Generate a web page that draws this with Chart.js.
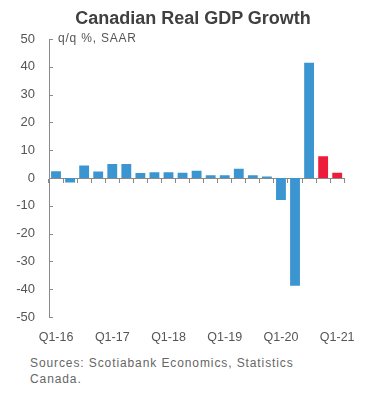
<!DOCTYPE html>
<html>
<head>
<meta charset="utf-8">
<script src="https://cdn.jsdelivr.net/npm/chart.js@4"></script>
<style>
  body { margin: 0; background: #fff; font-family: "Liberation Sans", Arial, sans-serif; }
  .wrap { position: relative; width: 368px; height: 396px; }
  .chartBox { position: absolute; left: 0; top: 0; width: 368px; height: 346px; }
  .title { position: absolute; left: 0; top: 8px; width: 386px; text-align: center;
           font-weight: bold; font-size: 18px; color: #404040; }
  .note { position: absolute; left: 58px; top: 31px; font-size: 12px; color: #555;
          letter-spacing: 0.8px; }
  .source { position: absolute; left: 30px; top: 355px; font-size: 12px; line-height: 16px;
            color: #666; letter-spacing: 0.9px; }
</style>
</head>
<body>
<div class="wrap">
  <div class="chartBox"><canvas id="gdp"></canvas></div>
  <div class="title">Canadian Real GDP Growth</div>
  <div class="note">q/q %, SAAR</div>
  <div class="source">Sources: Scotiabank Economics, Statistics<br>Canada.</div>
</div>
<script>
const quarters = [
  'Q1-16', 'Q2-16', 'Q3-16', 'Q4-16',
  'Q1-17', 'Q2-17', 'Q3-17', 'Q4-17',
  'Q1-18', 'Q2-18', 'Q3-18', 'Q4-18',
  'Q1-19', 'Q2-19', 'Q3-19', 'Q4-19',
  'Q1-20', 'Q2-20', 'Q3-20', 'Q4-20',
  'Q1-21',
];
// q/q % SAAR, last two are forecasts (red)
const growth = [
  2.4, -1.6, 4.5, 2.3,
  5.0, 5.0, 1.8, 2.1,
  2.1, 1.9, 2.6, 1.0,
  1.0, 3.3, 1.0, 0.5,
  -7.9, -38.8, 41.5, 7.8,
  1.9,
];
const forecast = [
  false, false, false, false,
  false, false, false, false,
  false, false, false, false,
  false, false, false, false,
  false, false, false, true,
  true,
];
const yTicks = [50, 40, 30, 20, 10, 0, -10, -20, -30, -40, -50];

const AXIS = '#8a8a8a';

// small tick marks pointing into the plot on the y axis
const innerTicks = {
  id: 'innerTicks',
  afterDatasetsDraw(chart) {
    const {ctx, chartArea, scales} = chart;
    ctx.save();
    ctx.strokeStyle = AXIS;
    ctx.lineWidth = 1;
    yTicks.forEach(v => {
      const y = Math.round(scales.y.getPixelForValue(v)) + 0.5;
      ctx.beginPath();
      ctx.moveTo(chartArea.left, y);
      ctx.lineTo(chartArea.left + 4, y);
      ctx.stroke();
    });
    ctx.restore();
  },
};

const ctx = document.getElementById('gdp').getContext('2d');
new Chart(ctx, {
  type: 'bar',
  data: {
    labels: quarters,
    datasets: [{
      data: growth,
      backgroundColor: forecast.map(f => (f ? '#ec1c3a' : '#3a95d1')),
      barPercentage: 0.7,
      categoryPercentage: 1,
    }],
  },
  options: {
    responsive: true,
    maintainAspectRatio: false,
    animation: false,
    layout: {padding: {top: 39, left: 0, right: 18, bottom: 0}},
    plugins: {
      legend: {display: false},
      tooltip: {enabled: false},
    },
    scales: {
      x: {
        position: 'bottom',
        grid: {display: false, drawTicks: false},
        border: {display: false},
        ticks: {
          autoSkip: false,
          maxRotation: 0,
          padding: 13,
          color: '#555',
          font: {family: '"Liberation Sans", Arial', size: 12.5},
          callback: function (val) {
            const lab = this.getLabelForValue(val);
            return lab.startsWith('Q1') ? lab : '';
          },
        },
        afterFit: s => { s.height = 29; },
      },
      x0: {
        type: 'category',
        position: {y: 0},
        grid: {
          drawOnChartArea: false,
          offset: true,
          tickLength: 4,
          color: AXIS,
        },
        border: {color: AXIS},
        ticks: {display: false},
      },
      y: {
        min: -50,
        max: 50,
        grid: {display: false, drawTicks: false},
        border: {color: AXIS},
        ticks: {
          stepSize: 10,
          padding: 14,
          color: '#555',
          font: {family: '"Liberation Sans", Arial', size: 13},
        },
        afterFit: s => { s.width = 49; },
      },
    },
  },
  plugins: [innerTicks],
});
</script>
</body>
</html>
